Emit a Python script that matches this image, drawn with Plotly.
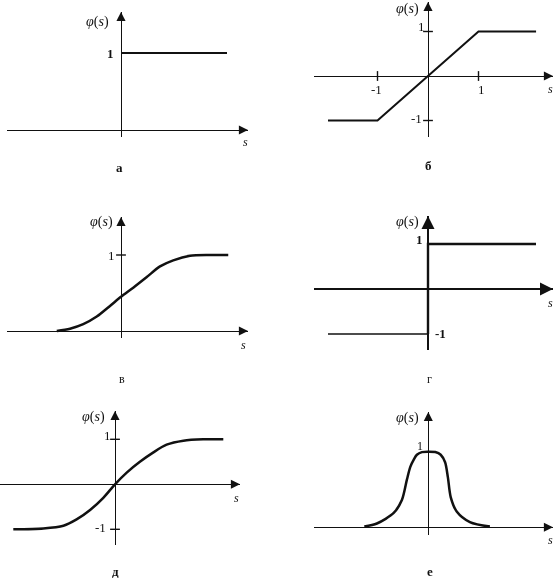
import plotly.graph_objects as go

W, H = 554, 579

# ---------------- data ----------------
# а: threshold (step) function
a_s = [0.0, 2.12]
a_phi = [1.0, 1.0]

# б: linear with saturation
b_s = [-1.98, -1.0, 1.0, 2.14]
b_phi = [-1.0, -1.0, 1.0, 1.0]
b_xticks = [-1, 1]
b_yticks = [-1, 1]

# в: logistic sigmoid
v_s = [-2.57, -2.04, -1.51, -0.97, -0.44, 0.0, 0.49, 1.03, 1.56, 2.09, 2.76, 3.56, 4.29]
v_phi = [0.0, 0.03, 0.09, 0.19, 0.33, 0.45, 0.57, 0.71, 0.85, 0.93, 0.99, 1.0, 1.0]
v_yticks = [1]

# г: sign function
g_neg_s = [-2.0, 0.0]
g_neg_phi = [-1.0, -1.0]
g_pos_s = [0.0, 0.0, 2.16]
g_pos_phi = [-1.0, 1.0, 1.0]

# д: hyperbolic tangent
d_s = [-3.39, -2.39, -1.72, -1.28, -0.83, -0.39, 0.0, 0.39, 0.83, 1.28, 1.72, 2.28, 2.94, 3.61]
d_phi = [-1.0, -0.98, -0.92, -0.78, -0.57, -0.30, 0.0, 0.26, 0.50, 0.71, 0.88, 0.97, 1.0, 1.0]
d_yticks = [-1, 1]

# е: Gaussian (radial basis)
e_s = [-3.2, -2.57, -1.73, -1.32, -1.07, -0.9, -0.72, -0.57, -0.32, 0.0,
       0.35, 0.62, 0.84, 0.98, 1.12, 1.42, 2.08, 3.08]
e_phi = [0.01, 0.05, 0.19, 0.36, 0.63, 0.80, 0.90, 0.96, 0.995, 1.0,
         0.995, 0.96, 0.86, 0.66, 0.40, 0.21, 0.07, 0.01]

# ---------------- layout geometry (pixels) ----------------
geom = [
    dict(ox=121, oy=130, sx=50, sy=77, xl=7, xr=248, yt=12, yb=137, aw=1.4),
    dict(ox=428, oy=76, sx=50.5, sy=44.5, xl=314, xr=553, yt=2, yb=137, aw=1.4),
    dict(ox=121, oy=331, sx=25, sy=76, xl=7, xr=248, yt=217, yb=338, aw=1.4),
    dict(ox=428, oy=289, sx=50, sy=45, xl=314, xr=553, yt=216, yb=350, aw=2.0),
    dict(ox=115, oy=484.3, sx=30, sy=45, xl=0, xr=240, yt=411, yb=545, aw=1.4),
    dict(ox=428.3, oy=527.3, sx=20, sy=75.6, xl=314, xr=553, yt=412, yb=535, aw=1.4),
]

INK = "#111111"
FONT = "Liberation Serif"
CW = 2.5

fig = go.Figure()
layout = dict(
    width=W, height=H, margin=dict(l=0, r=0, t=0, b=0),
    paper_bgcolor="white", plot_bgcolor="rgba(0,0,0,0)", showlegend=False,
)
annotations = []

for i, g in enumerate(geom, start=1):
    xn = "xaxis" if i == 1 else f"xaxis{i}"
    yn = "yaxis" if i == 1 else f"yaxis{i}"
    xr_ = "x" if i == 1 else f"x{i}"
    yr_ = "y" if i == 1 else f"y{i}"
    x0 = (g["xl"] - g["ox"]) / g["sx"]
    x1 = (g["xr"] - g["ox"]) / g["sx"]
    y0 = (g["oy"] - g["yb"]) / g["sy"]
    y1 = (g["oy"] - g["yt"]) / g["sy"]
    layout[xn] = dict(
        domain=[g["xl"] / W, g["xr"] / W], range=[x0, x1], anchor=yr_,
        showgrid=False, showticklabels=False, ticks="", showline=False,
        zeroline=True, zerolinecolor=INK, zerolinewidth=g["aw"], fixedrange=True,
    )
    layout[yn] = dict(
        domain=[1 - g["yb"] / H, 1 - g["yt"] / H], range=[y0, y1], anchor=xr_,
        showgrid=False, showticklabels=False, ticks="", showline=False,
        zeroline=True, zerolinecolor=INK, zerolinewidth=g["aw"], fixedrange=True,
    )
    g["xa"], g["ya"] = xr_, yr_
    # arrow heads
    annotations.append(dict(xref=xr_, yref=yr_, x=x1, y=0, ax=-10, ay=0, text="",
                            showarrow=True, arrowhead=2, arrowsize=1.3,
                            arrowwidth=g["aw"], arrowcolor=INK, standoff=0))
    annotations.append(dict(xref=xr_, yref=yr_, x=0, y=y1, ax=0, ay=10, text="",
                            showarrow=True, arrowhead=2, arrowsize=1.3,
                            arrowwidth=g["aw"], arrowcolor=INK, standoff=0))


def curve(i, s, phi, width=CW, spline=False):
    g = geom[i - 1]
    fig.add_trace(go.Scatter(
        x=s, y=phi, xaxis=g["xa"], yaxis=g["ya"], mode="lines",
        line=dict(color=INK, width=width, shape="spline" if spline else "linear",
                  smoothing=0.8 if spline else None),
        hoverinfo="skip", cliponaxis=False,
    ))


def ticks(i, xt=(), yt=()):
    g = geom[i - 1]
    if xt:
        fig.add_trace(go.Scatter(
            x=list(xt), y=[0] * len(xt), xaxis=g["xa"], yaxis=g["ya"], mode="markers",
            marker=dict(symbol="line-ns", size=7, line=dict(color=INK, width=1.4)),
            hoverinfo="skip", cliponaxis=False))
    if yt:
        fig.add_trace(go.Scatter(
            x=[0] * len(yt), y=list(yt), xaxis=g["xa"], yaxis=g["ya"], mode="markers",
            marker=dict(symbol="line-ew", size=7, line=dict(color=INK, width=1.4)),
            hoverinfo="skip", cliponaxis=False))


curve(1, a_s, a_phi, width=2.0)
curve(2, b_s, b_phi, width=2.0)
ticks(2, b_xticks, b_yticks)
curve(3, v_s, v_phi, spline=True)
ticks(3, (), v_yticks)
curve(4, g_neg_s, g_neg_phi, width=1.4)
curve(4, g_pos_s, g_pos_phi, width=2.4)
curve(5, d_s, d_phi, spline=True)
ticks(5, (), d_yticks)
curve(6, e_s, e_phi, spline=True)


def label(px, py, text, size=13, anchor="center"):
    annotations.append(dict(xref="paper", yref="paper", x=px / W, y=1 - py / H,
                            text=text, showarrow=False, xanchor=anchor, yanchor="middle",
                            font=dict(family=FONT, size=size, color=INK)))


PHI = "<i>φ</i>(<i>s</i>)"
S = "<i>s</i>"
PS = 14
SS = 12
# а
label(97, 22, PHI, PS); label(110, 53, "<b>1</b>"); label(245, 142, S, SS); label(119, 168, "<b>а</b>")
# б
label(407, 9, PHI, PS); label(376, 89, "-1"); label(481, 89, "1"); label(421, 27, "1")
label(416, 118, "-1"); label(550, 89, S, SS); label(428, 165, "<b>б</b>")
# в
label(101, 222, PHI, PS); label(112, 255, "1"); label(243, 345, S, SS); label(122, 379, "в", 12)
# г
label(407, 222, PHI, PS); label(419, 239, "<b>1</b>"); label(440, 333, "<b>-1</b>")
label(550, 303, S, SS); label(429, 379, "г", 12)
# д
label(93, 417, PHI, PS); label(107, 435, "1"); label(100, 527, "-1"); label(237, 498, S, SS)
label(115, 571, "<b>д</b>")
# е
label(407, 418, PHI, PS); label(420, 446, "1", 12); label(550, 540, S, SS); label(430, 571, "<b>е</b>")

layout["annotations"] = annotations
fig.update_layout(**layout)
fig.write_html(
    "out.html", config={"displayModeBar": False},
    post_script=("document.body.style.margin='0';document.body.style.padding='0';"
                 "document.querySelectorAll('.main-svg').forEach(function(s){"
                 "s.style.willChange='transform';});"),
)
